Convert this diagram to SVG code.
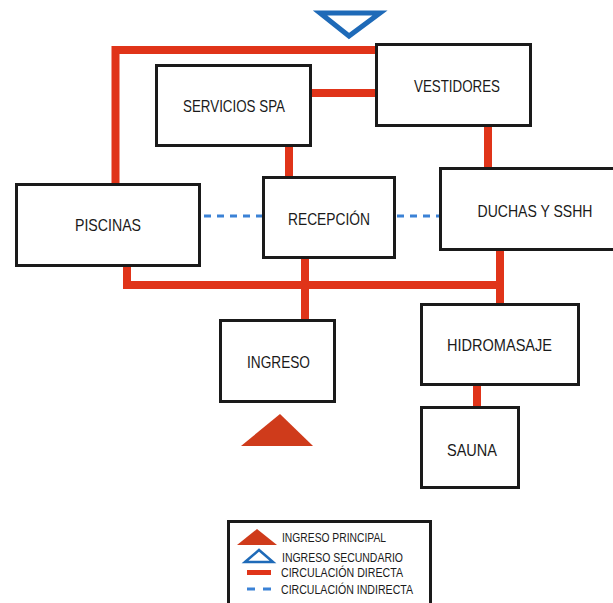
<svg xmlns="http://www.w3.org/2000/svg" width="613" height="603" viewBox="0 0 613 603">
<style>
.box{fill:#fff;stroke:#1a1a1a;stroke-width:3}
.lbl{font-family:"Liberation Sans",Arial,sans-serif;font-size:17px;fill:#1a1a1a;text-anchor:middle}
.leg{font-family:"Liberation Sans",Arial,sans-serif;font-size:12.5px;fill:#1a1a1a}
.red{fill:none;stroke:#e03419;stroke-width:8}
.dash{fill:none;stroke:#3b82d6;stroke-width:3;stroke-dasharray:7 6}
</style>
<rect width="613" height="603" fill="#fff"/>
<g id="connectors">
<path class="red" d="M115.5 184 V50 H378"/>
<path class="red" d="M311 93 H378"/>
<path class="red" d="M488 126 V169"/>
<path class="red" d="M289 146 V178"/>
<path class="red" d="M127 266 V285 H504"/>
<path class="red" d="M305 258 V321"/>
<path class="red" d="M500 250 V305"/>
<path class="red" d="M477 385 V408"/>
<path class="dash" d="M204 216 H262"/>
<path class="dash" d="M397 216 H439"/>
</g>
<g id="ingreso-secundario">
<path d="M320 13 H380 L349 36 Z" fill="none" stroke="#1e6ab8" stroke-width="5" stroke-linejoin="miter"/>
</g>
<g id="vestidores"><rect class="box" x="376.5" y="44.5" width="154" height="81"/><text class="lbl" x="457" y="92" textLength="86" lengthAdjust="spacingAndGlyphs">VESTIDORES</text></g>
<g id="servicios-spa"><rect class="box" x="156.5" y="65.5" width="154" height="80"/><text class="lbl" x="234" y="112" textLength="102" lengthAdjust="spacingAndGlyphs">SERVICIOS SPA</text></g>
<g id="piscinas"><rect class="box" x="16.5" y="184.5" width="183" height="81"/><text class="lbl" x="108" y="231" textLength="66" lengthAdjust="spacingAndGlyphs">PISCINAS</text></g>
<g id="recepcion"><rect class="box" x="263.5" y="177.5" width="131" height="80"/><text class="lbl" x="329" y="225" textLength="82" lengthAdjust="spacingAndGlyphs">RECEPCIÓN</text></g>
<g id="duchas"><path class="box" d="M613 168.5 H440.5 V249.5 H613"/><text class="lbl" x="535" y="217" textLength="115" lengthAdjust="spacingAndGlyphs">DUCHAS Y SSHH</text></g>
<g id="ingreso"><rect class="box" x="220.5" y="320.5" width="114" height="81"/><text class="lbl" x="278.5" y="368" textLength="63" lengthAdjust="spacingAndGlyphs">INGRESO</text></g>
<g id="ingreso-principal"><path d="M241 446 L280 414 L313 446 Z" fill="#cf3b1b"/></g>
<g id="hidromasaje"><rect class="box" x="421.5" y="304.5" width="157" height="80"/><text class="lbl" x="499.5" y="351" textLength="105" lengthAdjust="spacingAndGlyphs">HIDROMASAJE</text></g>
<g id="sauna"><rect class="box" x="421.5" y="407.5" width="97" height="80"/><text class="lbl" x="472" y="456" textLength="50" lengthAdjust="spacingAndGlyphs">SAUNA</text></g>
<g id="legend">
<path class="box" d="M228.5 603 V521.5 H430.5 V603"/>
<path d="M237 545 L257 529 L277 545 Z" fill="#cf3b1b"/>
<path d="M245 562 L259 550 L273 562 Z" fill="none" stroke="#1e6ab8" stroke-width="2.5"/>
<path d="M247 572.5 H271" stroke="#e03419" stroke-width="5"/>
<path d="M247 589 H271" stroke="#3b82d6" stroke-width="3" stroke-dasharray="8 8"/>
<text class="leg" x="282" y="541.5" textLength="104" lengthAdjust="spacingAndGlyphs">INGRESO PRINCIPAL</text>
<text class="leg" x="282" y="561.5" textLength="121" lengthAdjust="spacingAndGlyphs">INGRESO SECUNDARIO</text>
<text class="leg" x="281" y="577" textLength="122" lengthAdjust="spacingAndGlyphs">CIRCULACIÓN DIRECTA</text>
<text class="leg" x="281" y="594" textLength="132" lengthAdjust="spacingAndGlyphs">CIRCULACIÓN INDIRECTA</text>
</g>
</svg>
